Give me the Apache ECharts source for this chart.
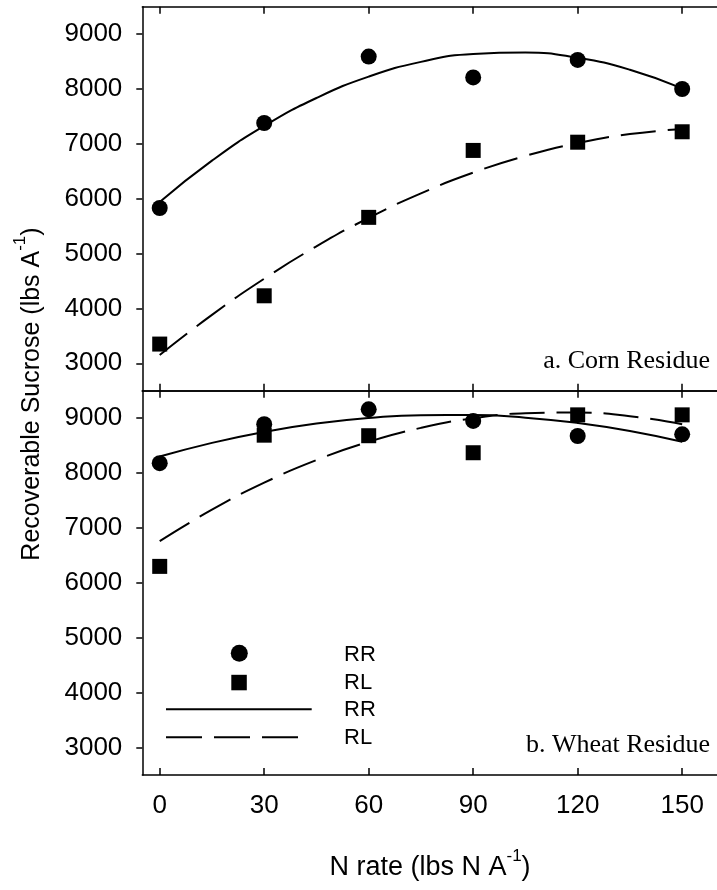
<!DOCTYPE html>
<html><head><meta charset="utf-8">
<script src="https://cdn.jsdelivr.net/npm/echarts@6/dist/echarts.min.js"></script>
<style>html,body{margin:0;padding:0;background:#fff}#c{width:717px;height:890px}</style>
</head><body><div id="c"></div>
<script>
// N rates (lbs N / A)
const nRates = [0, 30, 60, 90, 120, 150];
// a. Corn residue – observed means
const cornRR = [5830, 7380, 8590, 8210, 8530, 8000];
const cornRL = [3350, 4230, 5660, 6880, 7030, 7220];
// b. Wheat residue – observed means
const wheatRR = [8180, 8890, 9160, 8950, 8675, 8705];
const wheatRL = [6300, 8690, 8680, 8370, 9060, 9060];
// fitted curves
const fitX = [0, 15, 30, 45, 60, 75, 90, 105, 120, 135, 150];
const cornRRfit = [5940, 6694, 7326, 7836, 8226, 8494, 8640, 8665, 8568, 8350, 8010];
const cornRLfit = [3150, 3882, 4542, 5131, 5650, 6098, 6475, 6780, 7015, 7178, 7270];
const wheatRRfit = [8300, 8550, 8750, 8901, 9002, 9054, 9056, 9009, 8912, 8766, 8570];
const wheatRLfit = [6760, 7332, 7824, 8237, 8570, 8823, 8996, 9089, 9102, 9036, 8890];
// ticks
const xTicks = [0, 30, 60, 90, 120, 150];
const yTicks = [3000, 4000, 5000, 6000, 7000, 8000, 9000];
const legendLabels = ['RR', 'RL', 'RR', 'RL'];
const panelLabels = ['a. Corn Residue', 'b. Wheat Residue'];

const SANS = '"Liberation Sans", Arial, Helvetica, sans-serif';
const SERIF = '"Liberation Serif", "Times New Roman", serif';
const AX = {color: '#000', width: 1.5};

function xAx(gridIndex, position, showLabel) {
  return {
    type: 'value', gridIndex, position, min: -5, max: 160,
    axisLine: {show: true, onZero: false, lineStyle: AX},
    axisTick: {show: true, inside: true, length: 7, customValues: xTicks, lineStyle: AX},
    axisLabel: {show: showLabel, customValues: xTicks, margin: 18, fontSize: 26, color: '#000', fontFamily: SANS},
    splitLine: {show: false}
  };
}
function yAx(gridIndex) {
  return {
    type: 'value', gridIndex, position: 'left', min: 2500, max: 9500,
    axisLine: {show: true, onZero: false, lineStyle: AX},
    axisTick: {show: true, inside: false, length: 6, customValues: yTicks, lineStyle: AX},
    axisLabel: {customValues: yTicks, margin: 20, fontSize: 26, color: '#000', fontFamily: SANS,
      formatter: v => String(v)},
    splitLine: {show: false}
  };
}
const pts = (xs, ys) => xs.map((x, i) => [x, ys[i]]);
function scat(xi, yi, sym, size, ys) {
  return {type: 'scatter', xAxisIndex: xi, yAxisIndex: yi, symbol: sym, symbolSize: size,
    itemStyle: {color: '#000', opacity: 1}, data: pts(nRates, ys), z: 4, silent: true};
}
function fit(xi, yi, ys, dashed) {
  return {type: 'line', xAxisIndex: xi, yAxisIndex: yi, data: pts(fitX, ys), smooth: true,
    showSymbol: false, symbol: 'none', silent: true, z: 3,
    lineStyle: {color: '#000', width: 2, type: dashed ? [35, 12] : 'solid'}};
}

const supRich = {
  sup: {fontSize: 17, fontFamily: SANS, fill: '#000', lineHeight: 17, verticalAlign: 'top'}
};

const chart = echarts.init(document.getElementById('c'), null, {renderer: 'canvas'});
chart.setOption({
  animation: false,
  backgroundColor: '#fff',
  grid: [
    {left: 142.3, top: 6.7, width: 576.4, height: 384},
    {left: 142.3, top: 390.7, width: 576.4, height: 384.3}
  ],
  xAxis: [xAx(0, 'bottom', false), xAx(0, 'top', false), xAx(1, 'top', false), xAx(1, 'bottom', true)],
  yAxis: [yAx(0), yAx(1)],
  series: [
    fit(0, 0, cornRRfit, false), fit(0, 0, cornRLfit, true),
    scat(0, 0, 'circle', 16, cornRR), scat(0, 0, 'rect', 15, cornRL),
    fit(3, 1, wheatRRfit, false), fit(3, 1, wheatRLfit, true),
    scat(3, 1, 'circle', 16, wheatRR), scat(3, 1, 'rect', 15, wheatRL)
  ],
  graphic: [
    // panel labels
    {type: 'text', x: 710, y: 361, style: {text: panelLabels[0], fontSize: 26, fontFamily: SERIF, fill: '#000', align: 'right', verticalAlign: 'middle'}},
    {type: 'text', x: 710, y: 745, style: {text: panelLabels[1], fontSize: 26, fontFamily: SERIF, fill: '#000', align: 'right', verticalAlign: 'middle'}},
    // legend
    {type: 'circle', shape: {cx: 239.3, cy: 653.3, r: 8.5}, style: {fill: '#000'}},
    {type: 'rect', shape: {x: 231.3, y: 674.8, width: 15.5, height: 15.5}, style: {fill: '#000'}},
    {type: 'line', shape: {x1: 166, y1: 709.3, x2: 311.7, y2: 709.3}, style: {stroke: '#000', lineWidth: 2}},
    {type: 'line', shape: {x1: 166, y1: 737.3, x2: 298, y2: 737.3}, style: {stroke: '#000', lineWidth: 2, lineDash: [36, 12]}},
    {type: 'text', x: 344, y: 655, style: {text: legendLabels[0], fontSize: 22, fontFamily: SANS, fill: '#000', align: 'left', verticalAlign: 'middle'}},
    {type: 'text', x: 344, y: 683, style: {text: legendLabels[1], fontSize: 22, fontFamily: SANS, fill: '#000', align: 'left', verticalAlign: 'middle'}},
    {type: 'text', x: 344, y: 709.5, style: {text: legendLabels[2], fontSize: 22, fontFamily: SANS, fill: '#000', align: 'left', verticalAlign: 'middle'}},
    {type: 'text', x: 344, y: 737.5, style: {text: legendLabels[3], fontSize: 22, fontFamily: SANS, fill: '#000', align: 'left', verticalAlign: 'middle'}},
    // axis titles
    {type: 'text', x: 430, y: 868, style: {text: 'N rate (lbs N A{sup|-1})', fontSize: 27, lineHeight: 40, fontFamily: SANS, fill: '#000', align: 'center', verticalAlign: 'middle', rich: supRich}},
    {type: 'text', x: 32, y: 394, rotation: Math.PI / 2, style: {text: 'Recoverable Sucrose (lbs A{sup|-1})', fontSize: 25, lineHeight: 40, fontFamily: SANS, fill: '#000', align: 'center', verticalAlign: 'middle', rich: supRich}}
  ]
});
</script>
</body></html>
